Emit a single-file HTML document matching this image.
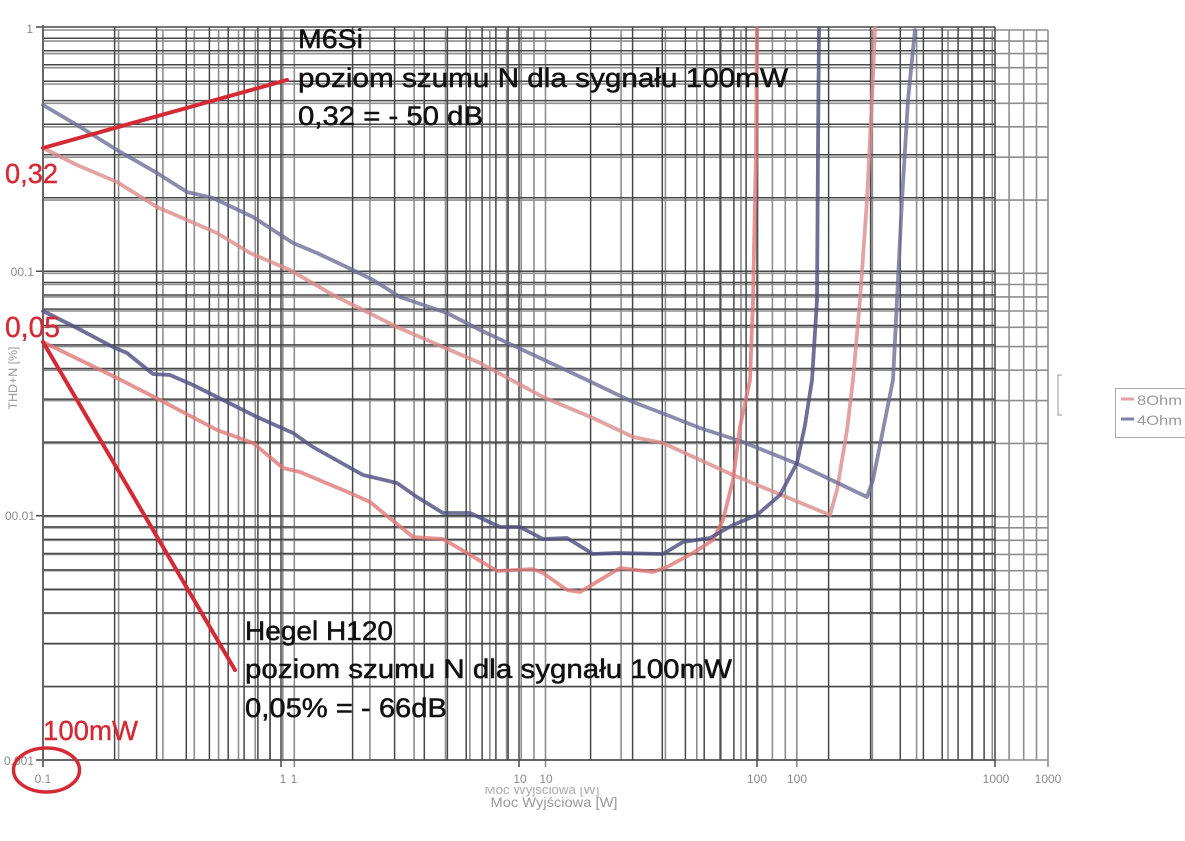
<!DOCTYPE html>
<html><head><meta charset="utf-8"><style>
html,body{margin:0;padding:0;background:#fff;}
svg{display:block;}
</style></head><body>
<svg width="1185" height="841" viewBox="0 0 1185 841" xmlns="http://www.w3.org/2000/svg">
<rect width="1185" height="841" fill="#fff"/>
<!-- Grid B (lighter) -->
<g stroke="#8e8e8e" stroke-width="1.6" fill="none">
<path d="M43 30V760M118.6 30V760M162.9 30V760M194.3 30V760M218.6 30V760M238.5 30V760M255.3 30V760M269.9 30V760M282.8 30V760M294.3 30V760M369.9 30V760M414.1 30V760M445.5 30V760M469.9 30V760M489.8 30V760M506.6 30V760M521.2 30V760M534 30V760M545.5 30V760M621.1 30V760M665.4 30V760M696.8 30V760M721.1 30V760M741 30V760M757.8 30V760M772.4 30V760M785.3 30V760M796.8 30V760M872.4 30V760M916.6 30V760M948 30V760M972.4 30V760M992.3 30V760M1009.1 30V760M1023.7 30V760M1036.5 30V760M1048 30V760"/>
<path d="M43 30H1048M43 41.1H1048M43 53.6H1048M43 67.7H1048M43 84H1048M43 103.3H1048M43 126.8H1048M43 157.2H1048M43 200.1H1048M43 273.3H1048M43 284.5H1048M43 296.9H1048M43 311H1048M43 327.3H1048M43 346.6H1048M43 370.2H1048M43 400.6H1048M43 443.4H1048M43 516.7H1048M43 527.8H1048M43 540.3H1048M43 554.4H1048M43 570.7H1048M43 589.9H1048M43 613.5H1048M43 643.9H1048M43 686.7H1048M43 760H1048"/>
<path d="M1048 760V767M796.8 760V767M545.5 760V767M294.3 760V767"/>
</g>
<!-- Grid A (darker) -->
<g stroke="#474747" stroke-width="1.5" fill="none">
<path d="M43 27V760M114.6 27V760M156.6 27V760M186.3 27V760M209.4 27V760M228.2 27V760M244.1 27V760M257.9 27V760M270.1 27V760M281 27V760M352.6 27V760M394.6 27V760M424.3 27V760M447.4 27V760M466.2 27V760M482.1 27V760M495.9 27V760M508.1 27V760M519 27V760M590.6 27V760M632.6 27V760M662.3 27V760M685.4 27V760M704.2 27V760M720.1 27V760M733.9 27V760M746.1 27V760M757 27V760M828.6 27V760M870.6 27V760M900.3 27V760M923.4 27V760M942.2 27V760M958.1 27V760M971.9 27V760M984.1 27V760M995 27V760"/>
<path d="M43 27H995M43 38.2H995M43 50.7H995M43 64.8H995M43 81.2H995M43 100.6H995M43 124.2H995M43 154.8H995M43 197.8H995M43 271.3H995M43 282.5H995M43 295H995M43 309.1H995M43 325.5H995M43 344.9H995M43 368.5H995M43 399.1H995M43 442.1H995M43 515.7H995M43 526.9H995M43 539.4H995M43 553.5H995M43 569.9H995M43 589.3H995M43 612.9H995M43 643.5H995M43 686.5H995M43 760H995"/>
<path d="M36 27H43M36 271.3H43M36 515.7H43M36 760H43M43 760V767M281 760V767M519 760V767M757 760V767M995 760V767"/>
</g>
<path d="M43 25V762" stroke="#666" stroke-width="2" fill="none"/>

<!-- Curves -->
<g fill="none" stroke-linejoin="round" stroke-linecap="round">
<path stroke="#dc8c8c" stroke-opacity="0.8" stroke-width="3.8" d="M43 148L77 165L117 182L157 207L187 220L217 233L250 253L290 270L333 295L363 310L397 327L480 363L543 397L593 418L633 437L663 443L733 475L830 515L837 490L847 430L853 380L860 300L867 200L872 100L875 28"/>
<path stroke="#6e6e98" stroke-opacity="0.8" stroke-width="3.8" d="M43 105L77 125L117 150L157 173L187 192L213 198L253 217L293 243L317 253L353 270L373 280L400 297L447 313L480 330L587 380L633 402L667 415L700 428L743 442L800 465L867 497L873 480L887 410L893 380L897 300L902 200L908 100L915 30"/>
<path stroke="#e07878" stroke-opacity="0.8" stroke-width="3.8" d="M43 342L80 360L117 378L160 400L217 430L253 443L283 468L300 472L350 493L370 502L413 537L443 539L467 553L497 571L533 569L543 573L567 590L580 592L600 580L620 568L653 572L667 567L693 553L713 540L723 520L733 480L740 427L750 380L753 300L756 150L757 28"/>
<path stroke="#4f4f80" stroke-opacity="0.82" stroke-width="3.8" d="M43 311L77 328L113 347L127 353L153 374L170 375L193 385L217 397L257 417L293 433L313 447L363 475L397 483L417 497L443 513L470 513L500 527L520 527L543 539L567 538L593 554L617 553L663 554L683 542L710 538L733 525L757 515L780 495L797 463L805 425L812 380L817 300L818 150L819 28"/>
</g>

<!-- Axis labels -->
<g font-family="Liberation Sans, sans-serif" fill="#8a8a8a" font-size="12">
<text x="33" y="33" text-anchor="end">1</text>
<text x="34" y="276" text-anchor="end">00.1</text>
<text x="35" y="520" text-anchor="end">00.01</text>
<text x="34" y="765" text-anchor="end">0.001</text>
<text x="43" y="783" text-anchor="middle">0.1</text>
<text x="283" y="783" text-anchor="middle">1</text>
<text x="294" y="783" text-anchor="middle">1</text>
<text x="520" y="783" text-anchor="middle">10</text>
<text x="546" y="783" text-anchor="middle">10</text>
<text x="757" y="783" text-anchor="middle">100</text>
<text x="797" y="783" text-anchor="middle">100</text>
<text x="996" y="783" text-anchor="middle">1000</text>
<text x="1048" y="783" text-anchor="middle">1000</text>
<text x="554" y="807" text-anchor="middle" font-size="14" fill="#999" textLength="127" lengthAdjust="spacingAndGlyphs">Moc Wyjściowa [W]</text>
<text transform="translate(17,378) rotate(-90)" text-anchor="middle" font-size="12" fill="#999" textLength="63" lengthAdjust="spacingAndGlyphs">THD+N [%]</text>
</g>
<clipPath id="cp"><rect x="470" y="787" width="150" height="10"/></clipPath>
<text x="542" y="794" text-anchor="middle" font-family="Liberation Sans, sans-serif" font-size="13" fill="#aaa" clip-path="url(#cp)" textLength="115" lengthAdjust="spacingAndGlyphs">Moc Wyjściowa [W]</text>

<!-- Legend -->
<path d="M1062 375H1058V415H1062" stroke="#aaa" stroke-width="1.2" fill="none"/>
<rect x="1115.5" y="388.5" width="80" height="49" fill="#fff" stroke="#aaa" stroke-width="1"/>
<line x1="1121" y1="399" x2="1134" y2="399" stroke="#e8a0a8" stroke-width="3"/>
<line x1="1121" y1="419" x2="1134" y2="419" stroke="#8080a8" stroke-width="3"/>
<g font-family="Liberation Sans, sans-serif" fill="#999" font-size="14">
<text x="1137" y="405" textLength="45" lengthAdjust="spacingAndGlyphs">8Ohm</text>
<text x="1137" y="425" textLength="45" lengthAdjust="spacingAndGlyphs">4Ohm</text>
</g>

<!-- Red annotations -->
<g stroke="#d42a35" stroke-width="4" stroke-linecap="round" fill="none">
<line x1="43" y1="148" x2="287" y2="80"/>
<line x1="43" y1="342" x2="235" y2="670"/>
<ellipse cx="46.5" cy="770" rx="33" ry="22" stroke-width="3.5"/>
</g>
<g font-family="Liberation Sans, sans-serif" fill="#d42a35" stroke="#d42a35" stroke-width="0.4">
<text x="5" y="183" font-size="28" textLength="53" lengthAdjust="spacingAndGlyphs">0,32</text>
<text x="5" y="337" font-size="29" textLength="55" lengthAdjust="spacingAndGlyphs">0,05</text>
<text x="43" y="740" font-size="28" textLength="95" lengthAdjust="spacingAndGlyphs">100mW</text>
</g>

<!-- Black annotation text -->
<g font-family="Liberation Sans, sans-serif" fill="#111" stroke="#111" stroke-width="0.5" font-size="27">
<text x="298" y="48" textLength="65" lengthAdjust="spacingAndGlyphs">M6Si</text>
<text x="298" y="87" textLength="490" lengthAdjust="spacingAndGlyphs">poziom szumu N dla sygnału 100mW</text>
<text x="298" y="125" textLength="185" lengthAdjust="spacingAndGlyphs">0,32 = - 50 dB</text>
<text x="245" y="640" textLength="148" lengthAdjust="spacingAndGlyphs">Hegel H120</text>
<text x="245" y="678" textLength="487" lengthAdjust="spacingAndGlyphs">poziom szumu N dla sygnału 100mW</text>
<text x="245" y="717" textLength="202" lengthAdjust="spacingAndGlyphs">0,05% = - 66dB</text>
</g>
</svg>
</body></html>
